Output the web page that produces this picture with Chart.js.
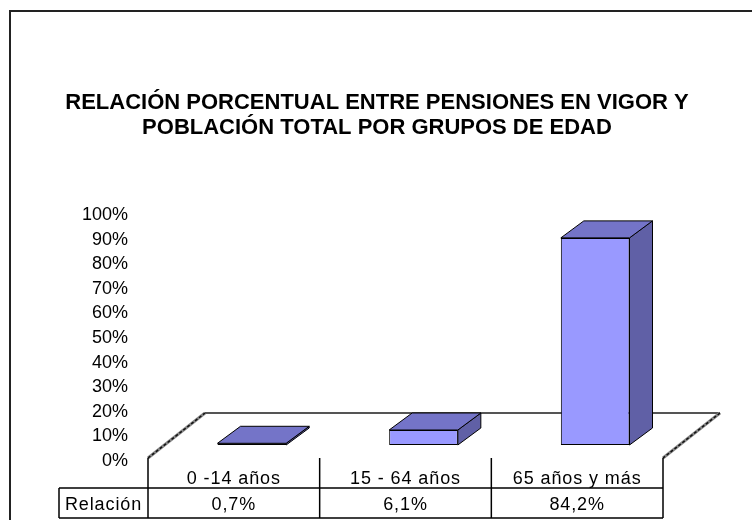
<!DOCTYPE html>
<html>
<head>
<meta charset="utf-8">
<script src="https://cdn.jsdelivr.net/npm/chart.js@4"></script>
<style>
  html, body { margin: 0; padding: 0; background: #fff; }
  #wrap { width: 752px; height: 520px; }
</style>
</head>
<body>
<div id="wrap"><canvas id="myChart" width="752" height="520"></canvas></div>
<script>
const titleLines = ["RELACIÓN PORCENTUAL ENTRE PENSIONES EN VIGOR Y", "POBLACIÓN TOTAL POR GRUPOS DE EDAD"];
const categories = ["0 -14 años", "15 - 64 años", "65 años y más"];
const relacion = [0.7, 6.1, 84.2];
const rowLabel = "Relación";

const FONT = "'Liberation Sans', Arial, sans-serif";
const DX = 23, DY = -17;        // bar depth
const FDX = 57, FDY = -45;      // floor depth
const TABLE_SHIFT = -18;        // table columns sit left of the bars

function fmt(v) {
  return v.toFixed(1).replace(".", ",") + "%";
}

const decor = {
  id: "decor",
  beforeDraw(chart) {
    const c = chart.ctx;
    c.save();
    c.fillStyle = "#fff";
    c.fillRect(0, 0, chart.width, chart.height);
    c.strokeStyle = "#222";
    c.lineWidth = 2;
    c.strokeRect(10, 11, 800, 600);
    // title
    c.fillStyle = "#000";
    c.font = "bold 22px " + FONT;
    c.textAlign = "center";
    c.textBaseline = "middle";
    c.fillText(titleLines[0], 377, 103);
    c.fillText(titleLines[1], 377, 128);
    c.restore();
  },
  beforeDatasetsDraw(chart) {
    const c = chart.ctx;
    const x = chart.scales.x;
    const yl = chart.scales.yl;
    const w = x.width / categories.length;
    const left = x.getPixelForValue(0) - w / 2 + TABLE_SHIFT;
    const right = x.getPixelForValue(categories.length - 1) + w / 2 + TABLE_SHIFT;
    const fy = yl.getPixelForValue(0) - 3;
    c.save();
    // back edge of the floor
    c.strokeStyle = "#555";
    c.lineWidth = 2;
    c.beginPath();
    c.moveTo(left + FDX, fy + FDY);
    c.lineTo(right + FDX, fy + FDY);
    c.stroke();
    // side edges
    c.lineWidth = 3;
    c.strokeStyle = "#888";
    c.beginPath();
    c.moveTo(left, fy);
    c.lineTo(left + FDX, fy + FDY);
    c.moveTo(right + FDX, fy + FDY);
    c.lineTo(right, fy);
    c.stroke();
    c.lineWidth = 1.5;
    c.strokeStyle = "#111";
    c.setLineDash([3, 2]);
    c.stroke();
    c.restore();
  },
  afterDatasetsDraw(chart) {
    const c = chart.ctx;
    const meta = chart.getDatasetMeta(0);
    c.save();
    c.lineWidth = 1;
    c.strokeStyle = "#000";
    c.lineJoin = "round";
    meta.data.forEach((bar) => {
      const p = bar.getProps(["x", "y", "base", "width"], true);
      const x1 = p.x - p.width / 2, x2 = p.x + p.width / 2;
      const top = p.y, base = p.base;
      // side
      c.fillStyle = "#6060A6";
      c.beginPath();
      c.moveTo(x2, top);
      c.lineTo(x2 + DX, top + DY);
      c.lineTo(x2 + DX, base + DY);
      c.lineTo(x2, base);
      c.closePath();
      c.fill();
      c.stroke();
      // top
      c.fillStyle = "#7474C8";
      c.beginPath();
      c.moveTo(x1, top);
      c.lineTo(x1 + DX, top + DY);
      c.lineTo(x2 + DX, top + DY);
      c.lineTo(x2, top);
      c.closePath();
      c.fill();
      c.stroke();
    });
    c.restore();
  },
  afterDraw(chart) {
    const c = chart.ctx;
    const x = chart.scales.x;
    const yl = chart.scales.yl;
    const w = x.width / categories.length;
    const left = x.getPixelForValue(0) - w / 2 + TABLE_SHIFT;
    const right = x.getPixelForValue(categories.length - 1) + w / 2 + TABLE_SHIFT;
    const rTop = yl.getPixelForValue(0) - 3;
    const rMid = rTop + 30;
    const rBot = rMid + 30;
    const labLeft = 59;
    c.save();
    c.strokeStyle = "#000";
    c.lineWidth = 1.5;
    c.beginPath();
    c.moveTo(labLeft, rMid); c.lineTo(right, rMid);
    c.moveTo(labLeft, rBot); c.lineTo(right, rBot);
    c.moveTo(labLeft, rMid); c.lineTo(labLeft, rBot);
    for (let i = 0; i <= categories.length; i++) {
      const xx = left + i * w;
      c.moveTo(xx, rTop); c.lineTo(xx, rBot);
    }
    c.stroke();
    c.fillStyle = "#000";
    c.font = "18px " + FONT;
    c.letterSpacing = "0.9px";
    c.textAlign = "center";
    c.textBaseline = "middle";
    categories.forEach((cat, i) => {
      const cx = x.getPixelForValue(i) + TABLE_SHIFT;
      c.fillText(cat, cx, rTop + 21);
      c.fillText(fmt(relacion[i]), cx, rMid + 17);
    });
    c.fillText(rowLabel, (labLeft + left) / 2, rMid + 17);
    c.restore();
  }
};

const ctx = document.getElementById("myChart");

var myChart = new Chart(ctx, {
  type: "bar",
  data: {
    labels: categories,
    datasets: [
      {
        label: rowLabel,
        data: relacion,
        backgroundColor: "#9999FF",
        borderColor: "#000",
        borderWidth: 1,
        borderSkipped: false,
        barPercentage: 0.4,
        categoryPercentage: 1,
        yAxisID: "y",
      },
    ],
  },
  options: {
    responsive: false,
    animation: false,
    layout: { padding: { top: 215, bottom: 59, left: 0, right: 71 } },
    plugins: {
      legend: { display: false },
      title: { display: false },
      tooltip: { enabled: false },
    },
    scales: {
      x: { display: false },
      y: { display: false, min: -6.5, max: 93.5 },
      yl: {
        position: "left",
        min: 0,
        max: 100,
        grid: { display: false, drawTicks: false },
        border: { display: false },
        ticks: {
          stepSize: 10,
          padding: 38,
          color: "#000",
          font: { family: FONT, size: 18 },
          callback: (v) => v + "%",
        },
        afterFit: (s) => { s.width = 166; },
      },
    },
  },
  plugins: [decor],
});
</script>
</body>
</html>
